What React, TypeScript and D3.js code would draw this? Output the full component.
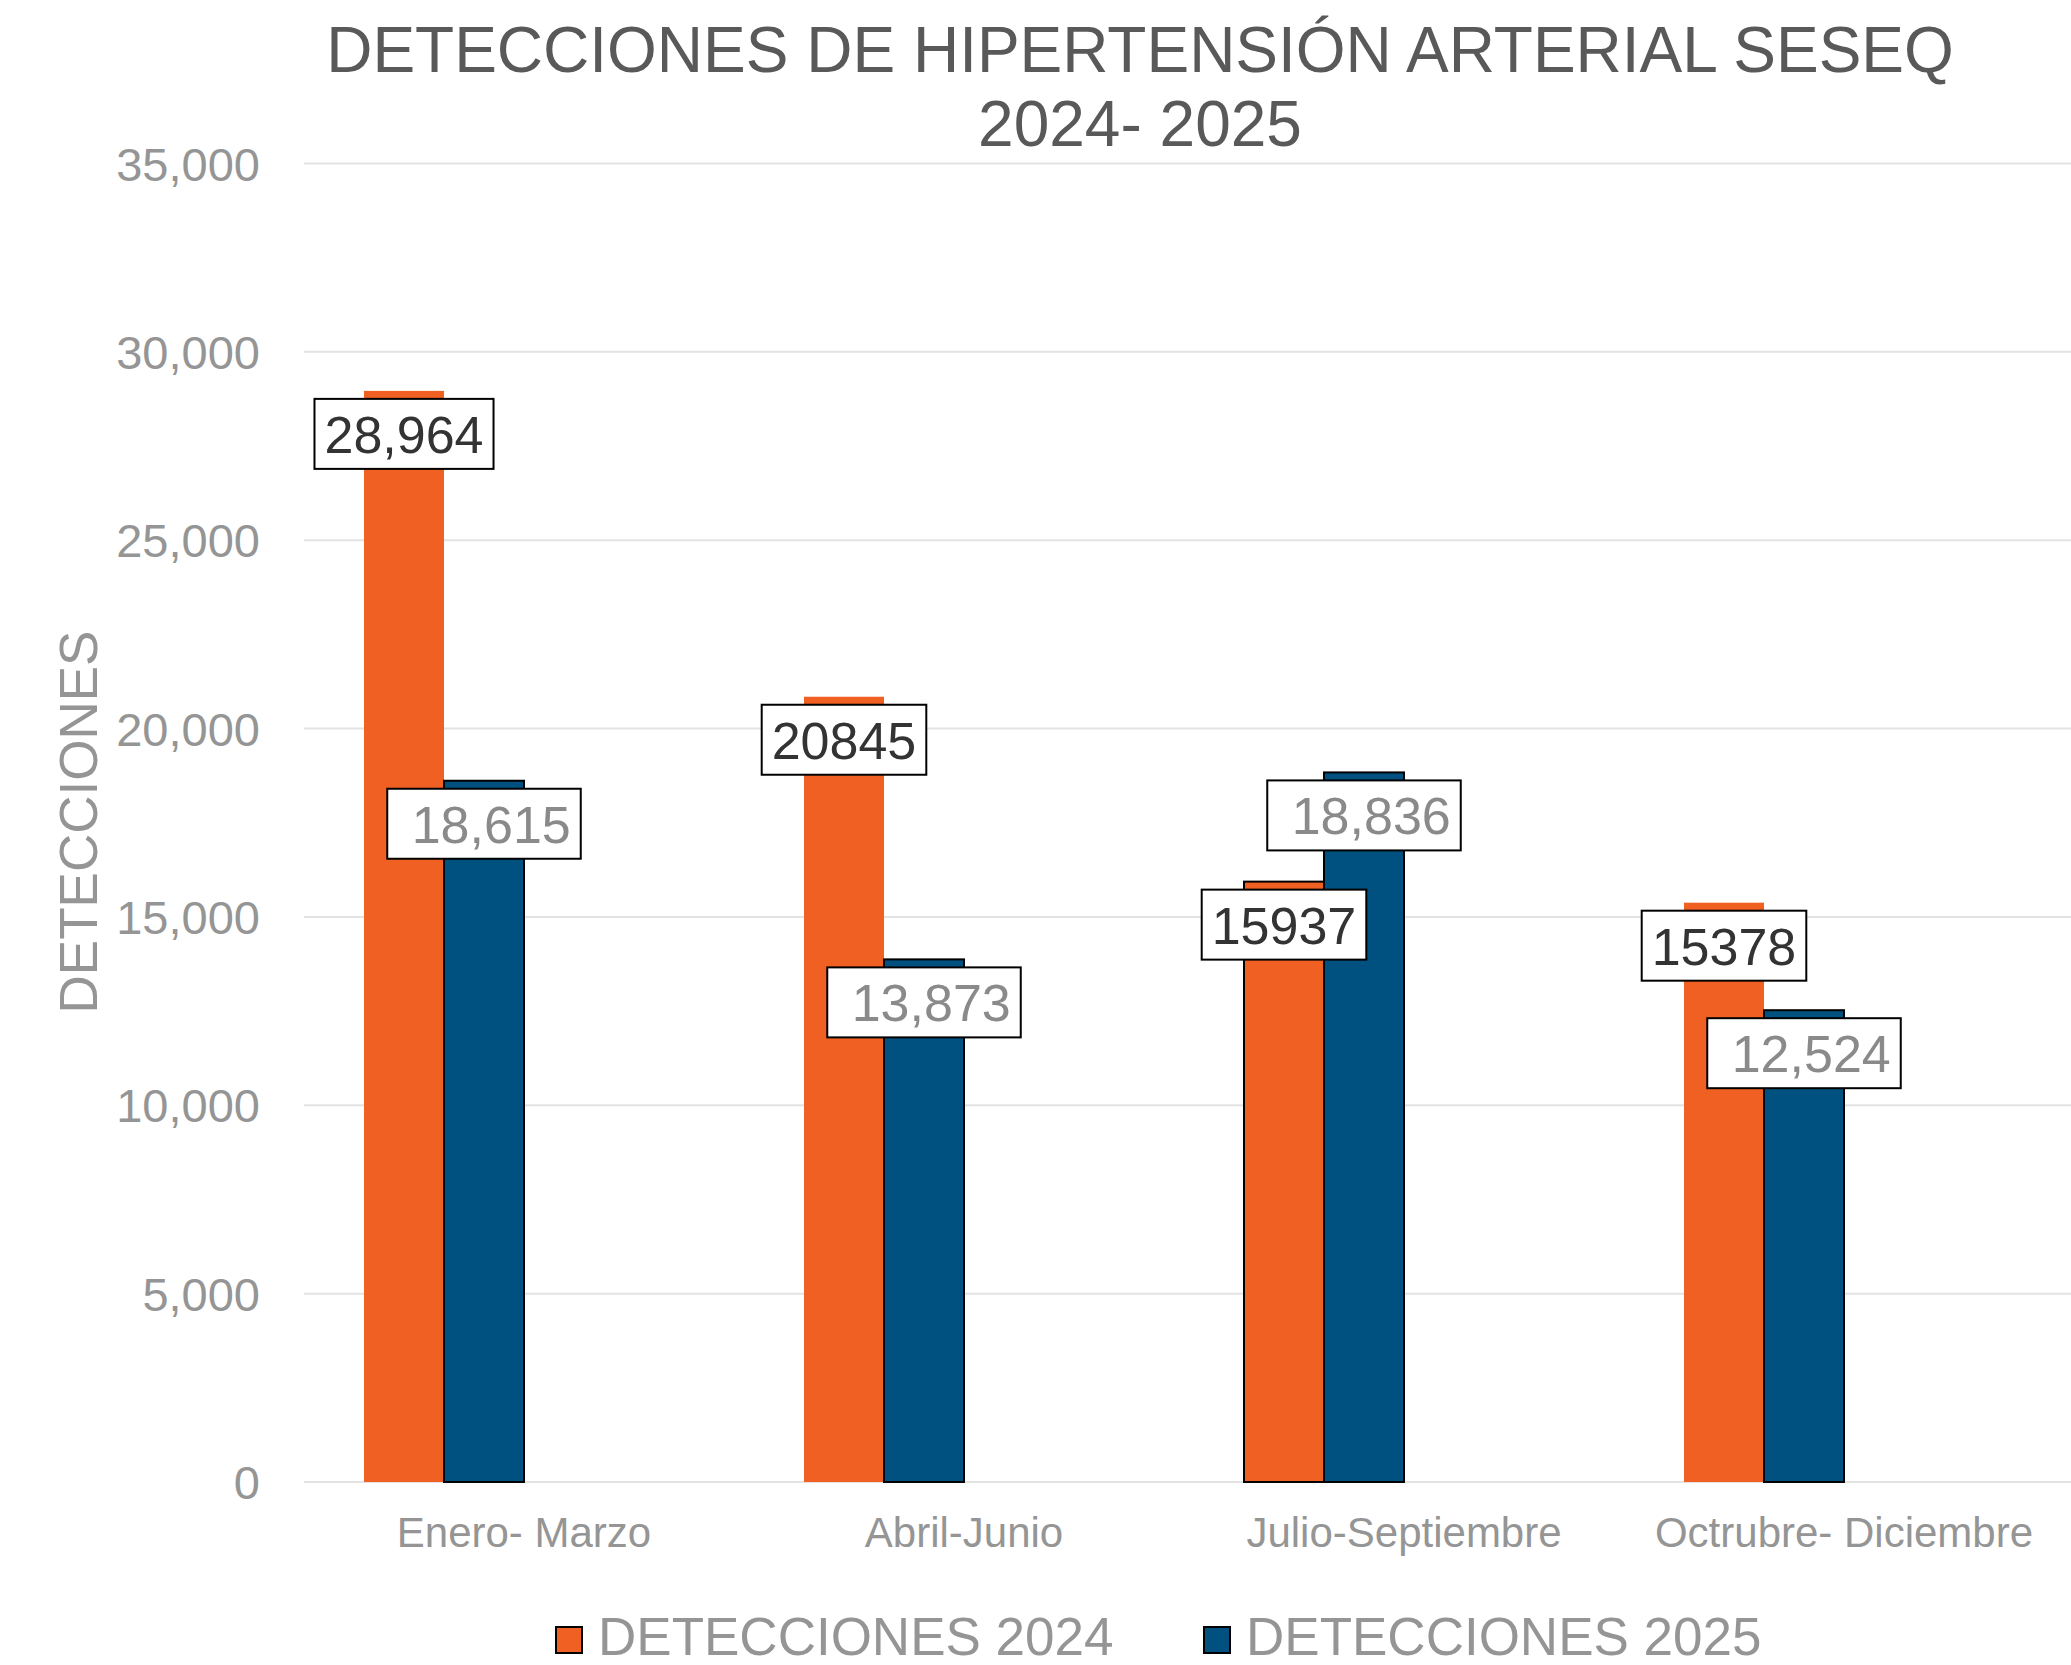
import React from "react";
import * as d3 from "d3";

const categories = ["Enero- Marzo", "Abril-Junio", "Julio-Septiembre", "Octrubre- Diciembre"];
const values2024 = [28964, 20845, 15937, 15378];
const values2025 = [18615, 13873, 18836, 12524];
const labels2024 = ["28,964", "20845", "15937", "15378"];
const labels2025 = ["18,615", "13,873", "18,836", "12,524"];
const yTicks = [0, 5000, 10000, 15000, 20000, 25000, 30000, 35000];
const seriesNames = ["DETECCIONES 2024", "DETECCIONES 2025"];
const seriesSlots = ["2024", "2025", "s3", "s4"];

const W = 2071;
const H = 1665;
const FONT = "'Liberation Sans', Arial, sans-serif";
const ORANGE = "#F06022";
const BLUE = "#00517F";
const GRAY = "#959595";

function measure(text: string, size: number): number {
  const c = document.createElement("canvas");
  const ctx = c.getContext("2d");
  if (!ctx) return text.length * size * 0.556;
  ctx.font = `${size}px 'Liberation Sans', Arial, sans-serif`;
  return ctx.measureText(text).width;
}

export default function App() {
  const left = 304, right = 2064, top = 163.5, bottom = 1482;
  const x = d3.scaleBand<string>().domain(categories).range([left, right]).paddingInner(0).paddingOuter(0);
  const y = d3.scaleLinear().domain([0, 35000]).range([bottom, top]);
  const fmt = d3.format(",");
  const labelFont = 52;
  const pad = 10;
  const spaceW = measure(" ", labelFont);

  const inner = (cat: string) => {
    const c = (x(cat) as number) + x.bandwidth() / 2;
    return d3.scaleBand<string>().domain(seriesSlots).range([c - 160, c + 160]);
  };

  const bars: any[] = [];
  const labels: any[] = [];
  categories.forEach((cat, i) => {
    const sb = inner(cat);
    const bw = sb.bandwidth();
    const series = [
      { key: "2024", v: values2024[i], color: ORANGE, stroke: i === 2, lab: labels2024[i], tc: "#333333", lead: false },
      { key: "2025", v: values2025[i], color: BLUE, stroke: true, lab: labels2025[i], tc: "#8a8a8a", lead: true },
    ];
    series.forEach((s) => {
      const bx = sb(s.key) as number;
      const by = y(s.v);
      bars.push(
        <rect key={`b-${i}-${s.key}`} x={bx} y={by} width={bw} height={bottom - by} fill={s.color}
          stroke={s.stroke ? "#000" : "none"} strokeWidth={s.stroke ? 2 : 0} />
      );
      const cx = bx + bw / 2;
      const tw = measure(s.lab, labelFont);
      const boxW = tw + 2 * pad + (s.lead ? spaceW : 0);
      const boxH = 70;
      const boxTop = by + 8;
      const textCx = cx + (s.lead ? spaceW / 2 : 0);
      labels.push(
        <g key={`l-${i}-${s.key}`}>
          <rect x={cx - boxW / 2} y={boxTop} width={boxW} height={boxH} fill="#fff" stroke="#000" strokeWidth={2} />
          <text x={textCx} y={boxTop + boxH / 2 + 19} textAnchor="middle" fontSize={labelFont} fill={s.tc} fontFamily={FONT}>{s.lab}</text>
        </g>
      );
    });
  });

  return (
    <svg width={W} height={H} style={{ position: "absolute", left: 0, top: 0, background: "#fff" }} fontFamily={FONT}>
      <rect x={0} y={0} width={W} height={H} fill="#fff" />
      <text x={1140} y={72} textAnchor="middle" fontSize={64} fill="#595959">DETECCIONES DE HIPERTENSIÓN ARTERIAL SESEQ</text>
      <text x={1140} y={146} textAnchor="middle" fontSize={64} fill="#595959">2024- 2025</text>

      {yTicks.map((t) => (
        <g key={`t-${t}`}>
          <line x1={left} x2={W} y1={y(t)} y2={y(t)} stroke="#e3e3e3" strokeWidth={2} />
          <text x={260} y={y(t) + 17} textAnchor="end" fontSize={47} fill={GRAY}>{fmt(t)}</text>
        </g>
      ))}

      <text transform={`translate(97, 822) rotate(-90)`} textAnchor="middle" fontSize={53} fill={GRAY}>DETECCIONES</text>

      {categories.map((cat) => (
        <text key={`c-${cat}`} x={(x(cat) as number) + x.bandwidth() / 2} y={1547} textAnchor="middle" fontSize={42} fill={GRAY}>{cat}</text>
      ))}

      {bars}
      {labels}

      <rect x={556} y={1627} width={26} height={26} fill={ORANGE} stroke="#000" strokeWidth={2} />
      <text x={598} y={1655} fontSize={53} fill={GRAY}>{seriesNames[0]}</text>
      <rect x={1204} y={1627} width={26} height={26} fill={BLUE} stroke="#000" strokeWidth={2} />
      <text x={1246} y={1655} fontSize={53} fill={GRAY}>{seriesNames[1]}</text>
    </svg>
  );
}
